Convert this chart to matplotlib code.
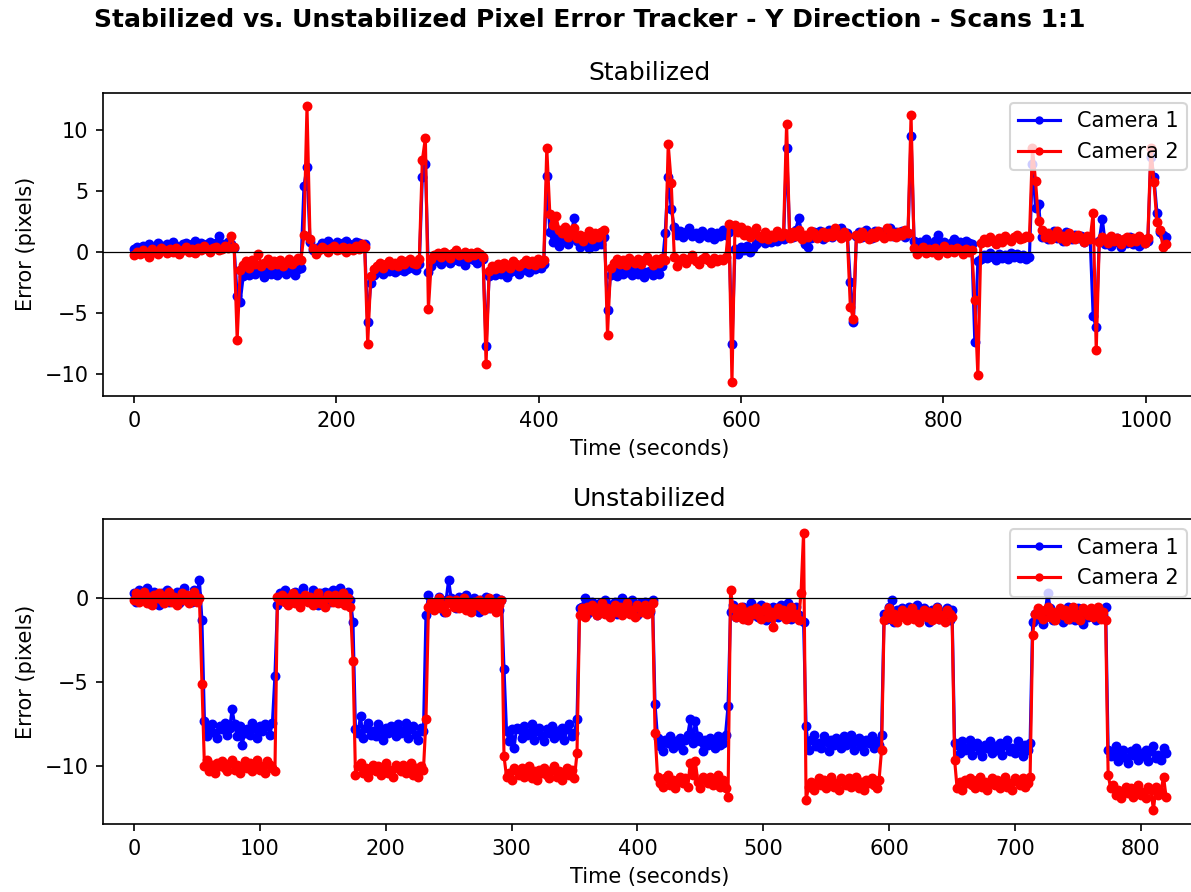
import numpy as np
import matplotlib
matplotlib.use("Agg")
import matplotlib.pyplot as plt

# ---------------- data ----------------
SUPTITLE = "Stabilized vs. Unstabilized Pixel Error Tracker - Y Direction - Scans 1:1"
panel_titles = ["Stabilized", "Unstabilized"]
series_labels = ["Camera 1", "Camera 2"]
stab_step_s = 3.0     # sampling interval (s) of the stabilized record
unstab_step_s = 2.0   # sampling interval (s) of the unstabilized record

# Stabilized run, Y error (pixels)
stab_cam1 = [
    .2,.4,.1,.5,.3,.6,.2,.4,.7,.3,.5,.6,.4,.8,.5,.3,.6,.7,.4,.6,.9,.5,.7,.4,.6,.8,.5,.7,1.3,.6,.4,.8,.6,.3,
    -3.6,-4.1,
    -2.0,-1.6,-1.9,-1.5,-1.8,-1.4,-1.7,-2.1,-1.6,-1.8,-1.5,-1.9,-1.7,-1.4,-1.8,-1.6,-1.5,-1.9,-1.4,-1.3,
    5.4,6.9,.8,
    .1,0,.4,.7,.5,.9,.6,.4,.8,.5,.7,.9,.6,.4,.8,.7,.5,.6,
    -5.8,
    -2.6,-1.9,-1.7,-1.5,-1.8,-1.4,-1.6,-1.3,-1.7,-1.5,-1.2,-1.6,-1.4,-1.1,-1.3,-1.5,-1.0,
    6.1,7.2,-1.7,
    -1.2,-.8,-.5,-1.0,-.6,-.3,-.9,-.7,-.4,-.8,-.5,-1.1,-.6,-.3,-.7,-.9,-.5,-.6,
    -7.7,
    -2.0,-1.7,-1.9,-1.5,-1.8,-1.6,-2.1,-1.7,-1.4,-1.6,-1.8,-1.3,-1.5,-1.7,-1.2,-1.4,-1.1,-1.3,-1.0,
    6.2,
    1.6,.8,1.3,.5,1.0,1.7,.6,1.2,2.8,.9,.4,1.1,.7,.3,.9,.5,1.0,.6,1.2,
    -4.8,
    -1.9,-1.6,-2.0,-1.5,-1.8,-1.7,-1.4,-1.9,-1.6,-1.8,-1.5,-2.1,-1.7,-1.6,-1.9,-1.4,-1.8,-1.2,1.5,
    6.1,3.5,
    2.0,1.4,1.7,1.2,1.6,1.9,1.3,1.5,1.1,1.7,1.4,1.2,1.6,1.0,1.5,1.3,1.8,1.4,1.6,
    -7.6,
    .2,-.2,.4,.1,.5,0,.3,.6,.9,1.1,.7,1.0,.8,1.2,.9,1.3,1.0,
    8.5,
    1.5,1.2,1.8,2.8,1.4,.6,.4,1.1,1.6,1.3,1.7,1.0,1.5,1.8,1.2,1.6,1.4,1.9,1.3,1.5,
    -2.5,-5.8,
    1.3,1.6,1.2,1.8,1.5,1.1,1.7,1.4,1.6,1.2,1.5,1.9,1.3,1.6,1.4,1.7,1.2,1.5,
    9.5,
    .9,.5,.8,.6,1.0,.7,.4,.9,1.4,.6,.8,.5,.7,1.0,.6,.8,.4,.9,.7,.6,
    -7.4,-.8,
    -.6,-.3,-.5,-.1,-.4,-.7,-.2,-.5,-.3,-.6,-.1,-.4,-.2,-.5,-.3,-.6,-.4,
    7.2,3.6,3.9,
    1.2,1.5,1.0,1.3,1.7,1.1,1.4,.9,1.6,1.2,1.0,1.4,1.1,1.3,.8,1.2,1.0,
    -5.3,-6.2,
    .9,2.7,.6,1.0,.5,.8,1.1,.4,.9,.7,1.2,.6,.8,.5,1.0,.7,.9,
    7.8,6.1,3.2,1.6,1.4,1.2,
]
stab_cam2 = [
    -.3,0,-.2,.1,-.1,-.4,.2,0,-.2,.3,.1,-.1,.2,0,.3,-.2,.1,.4,0,.2,-.1,.3,.1,.5,.2,0,.3,.4,.1,.2,.5,.3,1.3,.4,
    -7.2,-1.5,
    -1.1,-.8,-1.3,-.7,-1.0,-.2,-1.2,-.9,-.6,-1.1,-.8,-1.0,-.7,-1.2,-.9,-.6,-1.0,-.8,-.5,-.7,
    1.4,11.9,1.0,
    .3,-.2,.1,.4,.2,0,.3,.5,.1,.2,.4,0,.3,.1,.5,.2,.6,.4,
    -7.6,
    -2.0,-1.4,-1.2,-.9,-1.3,-1.0,-.8,-1.1,-.9,-1.2,-.7,-1.0,-.8,-.6,-.9,-1.0,-.6,
    7.5,9.3,-4.7,
    -.6,-.3,-.1,-.4,0,-.2,-.5,-.1,.1,-.3,-.2,0,-.4,-.1,-.3,0,-.2,-.4,
    -9.2,
    -1.6,-1.2,-1.4,-1.0,-1.3,-.9,-1.1,-1.3,-.8,-1.0,-1.2,-.9,-.7,-1.0,-.8,-1.1,-.6,-.9,-.7,
    8.5,
    3.1,2.2,2.9,1.8,1.5,2.0,1.2,1.6,1.9,1.1,1.4,.9,1.3,1.7,1.0,1.5,1.2,1.6,1.8,
    -6.8,
    -1.3,-.9,-.6,-1.0,-.7,-1.1,-.5,-.8,-.9,-.6,-1.0,-.7,-.4,-.8,-1.1,-.6,-.9,-.5,-.7,
    8.8,5.6,
    -.4,-1.2,-.7,-.5,-.9,-.6,-.3,-.8,-1.0,-.6,-.4,-.7,-.9,-.5,-.8,-.6,-.7,-.4,2.3,
    -10.7,
    2.2,1.6,2.0,1.4,1.8,1.2,1.5,1.9,1.3,1.1,1.6,1.0,1.4,1.2,1.7,1.3,1.5,
    10.5,
    1.1,1.6,1.3,1.8,1.0,1.4,1.2,1.7,1.5,1.1,1.4,1.6,1.2,1.5,1.3,1.9,1.4,1.1,1.6,1.3,
    -4.5,-5.5,
    1.4,1.1,1.6,1.3,1.0,1.5,1.2,1.7,1.4,1.1,1.9,1.3,1.5,1.2,1.6,1.4,1.8,1.5,
    11.2,
    .3,-.2,.1,.4,-.1,.2,0,.3,-.3,.1,.5,-.1,.2,0,.3,.1,-.2,.2,0,.1,
    -4.0,-10.1,
    .7,1.0,.8,1.2,.9,.6,1.1,.8,1.3,1.0,.9,1.2,1.4,1.0,1.1,1.3,1.2,
    8.5,5.8,2.5,
    1.8,1.2,1.5,1.0,1.4,1.7,1.1,1.3,.9,1.5,1.2,1.0,1.4,1.1,.8,1.3,1.0,
    3.2,-8.1,
    .8,1.2,1.0,.7,1.3,.9,1.1,.6,1.0,1.2,.8,1.1,.9,1.3,1.0,.7,1.1,
    8.5,5.7,2.4,1.8,.4,.6,
]

# Unstabilized run, Y error (pixels)
unstab_cam1 = [
    .3,-.2,.5,0,.1,.6,-.3,.2,.4,-.1,-.4,.3,.1,.5,-.2,.2,0,.4,-.3,.3,.6,-.1,.1,-.2,.5,.2,1.1,
    -1.3,
    -7.3,-8.2,-7.7,-7.5,-8.0,-8.3,-7.6,-7.8,-7.4,-8.1,-7.7,-6.6,-7.5,-8.2,-7.6,-8.7,-8.0,-7.8,-8.1,-7.4,-7.7,-8.3,-7.6,-7.9,-7.5,-7.6,-8.1,-7.4,
    -4.6,
    -.4,.3,.1,.5,-.2,.2,0,.4,-.3,.3,.6,-.1,.1,-.2,.5,.2,-.4,.3,0,.4,.3,-.2,.5,0,.1,.6,-.3,.2,.4,-.1,
    -1.4,
    -7.8,-8.0,-7.0,-8.3,-7.7,-7.4,-8.1,-7.9,-8.2,-7.5,-7.8,-8.4,-7.7,-8.0,-7.6,-7.7,-8.2,-7.5,-8.0,-7.9,-7.4,-8.3,-7.8,-7.6,-8.1,-8.4,-7.7,-7.9,
    -1.0,
    .2,-.5,-.3,-.6,.1,-.2,-.8,-.1,1.1,0,-.1,-.6,.1,-.4,-.3,.2,-.7,-.2,0,-.5,-.8,-.1,-.3,.1,-.6,-.2,-.4,0,-.7,-.1,
    -4.2,
    -7.9,-8.5,-7.8,-8.9,-7.7,-7.8,-8.3,-7.6,-8.1,-8.0,-7.5,-8.4,-7.9,-7.7,-8.2,-8.5,-7.8,-8.0,-7.6,-8.3,-7.9,-8.1,-7.7,-8.4,-7.8,-7.5,-8.2,-8.0,
    -7.2,
    -.6,-.5,0,-.9,-.4,-.2,-.7,-1.0,-.3,-.5,-.1,-.8,-.4,-.6,-.2,-.9,-.3,0,-.7,-.5,-.8,-.1,-.4,-1.0,-.3,-.6,-.2,-.3,-.8,-.1,
    -6.3,
    -8.3,-8.8,-9.1,-8.4,-8.6,-8.2,-8.9,-8.5,-8.7,-8.3,-9.0,-8.4,-8.1,-7.2,-8.6,-7.3,-8.2,-8.5,-9.1,-8.4,-8.7,-8.3,-8.4,-8.9,-8.2,-8.7,-8.6,-8.1,
    -6.4,
    -.8,-.4,-1.1,-.7,-.9,-.5,-1.2,-.6,-.3,-1.0,-.8,-1.1,-.4,-.7,-1.3,-.6,-.9,-.5,-.6,-1.1,-.4,-.9,-.8,-.3,-1.2,-.7,-.5,-1.0,-1.3,
    -1.4,
    -7.6,
    -9.0,-8.4,-8.1,-8.8,-8.6,-8.9,-8.2,-8.5,-9.1,-8.4,-8.7,-8.3,-8.4,-8.9,-8.2,-8.7,-8.6,-8.1,-9.0,-8.5,-8.3,-8.8,-9.1,-8.4,-8.6,-8.2,-8.9,-8.5,-8.7,
    -8.1,
    -.9,-1.2,-.5,-.1,-1.4,-.7,-1.0,-.6,-.7,-1.2,-.5,-1.0,-.9,-.4,-1.3,-.8,-.6,-1.1,-1.4,-.7,-.9,-.5,-1.2,-.8,-1.0,-.6,-1.3,-.7,
    -8.6,
    -8.7,-9.2,-8.5,-9.0,-8.9,-8.4,-9.3,-8.8,-8.6,-9.1,-9.4,-8.7,-8.9,-8.5,-9.2,-8.8,-9.0,-8.6,-9.3,-8.7,-8.4,-9.1,-8.9,-9.2,-8.5,-8.8,-9.4,-8.7,-9.0,-8.6,
    -1.4,
    -.9,-.7,-1.2,-1.5,-.8,.3,-.6,-1.3,-.9,-1.1,-.7,-1.4,-.8,-.5,-1.2,-1.0,-1.3,-.6,-.9,-1.5,-.8,-1.1,-.7,-.8,-1.3,-.6,-1.1,-1.0,-.5,
    -9.0,
    -9.4,-9.3,-8.8,-9.7,-9.2,-9.0,-9.5,-9.8,-9.1,-9.3,-8.9,-9.6,-9.2,-9.4,-9.0,-9.7,-9.1,-8.8,-9.5,-9.3,-9.6,-8.9,-9.2,
]
unstab_cam2 = [
    -.1,.3,-.2,0,.4,-.3,.1,-.4,.2,0,.3,-.1,-.3,.2,.4,-.2,.1,-.4,0,.3,-.1,.2,-.3,.1,.4,-.2,0,
    -5.1,
    -10.0,-9.6,-10.3,-9.9,-10.4,-9.8,-10.0,-9.7,-10.1,-10.3,-9.8,-9.6,-10.2,-9.9,-10.4,-10.0,-9.7,-10.1,-9.8,-10.3,-9.9,-9.6,-10.2,-10.0,-10.4,-9.7,-9.9,-10.1,
    -10.3,
    .1,-.1,.2,-.2,-.4,.1,.3,-.3,0,-.5,-.1,.2,-.2,.1,-.4,0,.3,-.3,-.1,-.5,.2,0,-.2,.2,-.3,-.1,.3,-.4,0,-.5,
    -3.7,
    -10.5,-10.0,-9.8,-10.4,-10.1,-10.6,-10.2,-9.9,-10.3,-10.0,-10.5,-10.1,-9.8,-10.4,-10.2,-10.6,-9.9,-10.1,-10.3,-9.9,-10.4,-10.2,-9.8,-10.5,-10.1,-10.6,-10.0,-10.2,
    -7.2,
    -.5,-.2,-.7,-.3,0,-.6,-.4,-.8,-.1,-.3,-.5,-.1,-.6,-.4,0,-.7,-.3,-.8,-.2,-.4,-.1,-.5,-.7,-.2,0,-.6,-.3,-.8,-.4,-.1,
    -9.4,
    -10.6,-10.4,-10.8,-10.1,-10.3,-10.5,-10.1,-10.6,-10.4,-10.0,-10.7,-10.3,-10.8,-10.2,-10.4,-10.1,-10.5,-10.7,-10.2,-10.0,-10.6,-10.3,-10.8,-10.4,-10.1,-10.5,-10.2,-10.7,
    -9.2,
    -1.0,-.6,-1.1,-.5,-.7,-.4,-.8,-1.0,-.5,-.3,-.9,-.6,-1.1,-.7,-.4,-.8,-.5,-1.0,-.6,-.3,-.9,-.7,-1.1,-.4,-.6,-.8,-.4,-.9,-.7,-.3,
    -8.0,
    -10.6,-11.0,-11.2,-10.7,-10.5,-11.1,-10.8,-11.3,-10.9,-10.6,-11.0,-10.7,-11.2,-9.8,-10.5,-9.7,-10.9,-11.3,-10.6,-10.8,-11.0,-10.6,-11.1,-10.9,-10.5,-11.2,-10.8,-11.3,
    -11.8,
    .5,-.6,-1.1,-.9,-.5,-1.2,-.8,-1.3,-.7,-.9,-.6,-1.0,-1.2,-.7,-.5,-1.1,-.8,-1.7,-.9,-.6,-1.0,-.7,-1.2,-.8,-.5,-1.1,-.9,-1.3,.3,
    3.9,
    -12.0,
    -11.2,-10.9,-11.4,-11.0,-10.7,-11.1,-10.8,-11.3,-10.9,-10.6,-11.2,-11.0,-11.4,-10.7,-10.9,-11.1,-10.7,-11.2,-11.0,-10.6,-11.3,-10.9,-11.4,-10.8,-11.0,-10.7,-11.1,-11.3,-10.8,
    -9.0,
    -1.3,-.9,-.6,-1.2,-.9,-1.4,-1.0,-.7,-1.1,-1.3,-.8,-.6,-1.2,-.9,-1.4,-1.0,-.7,-1.1,-.8,-1.3,-.9,-.6,-1.2,-1.0,-1.4,-.7,-.9,-1.1,
    -9.6,
    -11.3,-10.9,-11.4,-10.8,-11.0,-10.7,-11.1,-11.3,-10.8,-10.6,-11.2,-10.9,-11.4,-11.0,-10.7,-11.1,-10.8,-11.3,-10.9,-10.6,-11.2,-11.0,-11.4,-10.7,-10.9,-11.1,-10.7,-11.2,-11.0,-10.6,
    -2.2,
    -.9,-.6,-1.0,-1.2,-.7,-.5,-1.1,-.8,-1.3,-.9,-.6,-1.0,-.7,-1.2,-.8,-.5,-1.1,-.9,-1.3,-.6,-.8,-1.0,-.6,-1.1,-.9,-.5,-1.2,-.8,-1.3,
    -10.5,
    -11.3,-11.1,-11.7,-11.4,-11.9,-11.5,-11.2,-11.6,-11.3,-11.8,-11.4,-11.1,-11.7,-11.5,-11.9,-11.2,-11.4,-12.6,-11.2,-11.7,-11.5,-10.6,-11.8,
]

stab_time = np.arange(len(stab_cam1)) * stab_step_s
unstab_time = np.arange(len(unstab_cam1)) * unstab_step_s

# ---------------- figure ----------------
W, H, DPI = 1191, 892, 150
fig = plt.figure(figsize=(W / DPI, H / DPI), dpi=DPI)
left, right = 103, 1197
ax1 = fig.add_axes([left / W, 1 - 396 / H, (right - left) / W, (396 - 92.7) / H])
ax2 = fig.add_axes([left / W, 1 - 824 / H, (right - left) / W, (824 - 519) / H])

panels = [
    (ax1, stab_time, stab_cam1, stab_cam2, panel_titles[0]),
    (ax2, unstab_time, unstab_cam1, unstab_cam2, panel_titles[1]),
]
for ax, t, c1, c2, ttl in panels:
    ax.plot(t, c1, marker='.', markersize=7.5, linestyle='-', color='blue', label=series_labels[0])
    ax.plot(t, c2, marker='.', markersize=7.5, linestyle='-', color='red', label=series_labels[1])
    ax.axhline(0, color='black', linewidth=0.6)
    ax.margins(x=0.03)
    ax.set_title(ttl, fontsize=12)
    ax.set_xlabel('Time (seconds)')
    ax.set_ylabel('Error (pixels)')
    ax.legend(loc='upper right', markerscale=0.8)

fig.suptitle(SUPTITLE, fontsize=12, fontweight='bold', x=590 / W, y=1 - 20 / H, va='center')
fig.savefig('out.png', dpi=DPI)
